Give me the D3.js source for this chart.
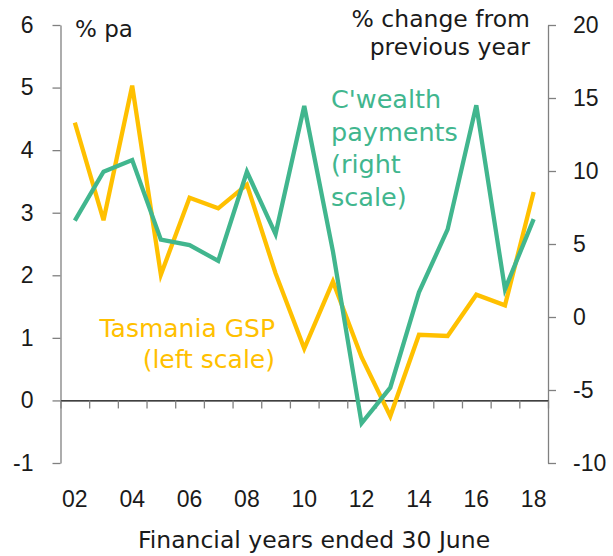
<!DOCTYPE html>
<html>
<head>
<meta charset="utf-8">
<script src="https://cdn.jsdelivr.net/npm/d3@7"></script>
<style>
  body { margin: 0; background: #fff; }
  svg { font-family: "DejaVu Sans", sans-serif; }
  .tick text { fill: #1a1a1a; }
</style>
</head>
<body>
<div id="chart"></div>
<script>
// data
let years = ['02','03','04','05','06','07','08','09','10','11','12','13','14','15','16','17','18']
let labelYears = ['02','04','06','08','10','12','14','16','18']
let gsp = [4.44, 2.88, 5.03, 2.01, 3.24, 3.07, 3.45, 2.03, 0.83, 1.9, 0.69, -0.25, 1.05, 1.03, 1.69, 1.52, 3.33]
let payments = [6.6, 9.95, 10.75, 5.3, 4.93, 3.84, 9.95, 5.68, 14.45, 4.5, -7.28, -4.84, 1.69, 6.0, 14.5, 1.9, 6.7]
let leftTicks = [-1, 0, 1, 2, 3, 4, 5, 6]
let rightTicks = [-10, -5, 0, 5, 10, 15, 20]

let yellow = '#FFC000'
let green = '#41B68E'

let W = 613, H = 556
let plot = { left: 60.5, right: 548, top: 25, bottom: 463 }

let svg = d3.select('#chart')
    .append('svg')
    .attr('width', W)
    .attr('height', H)

let x = d3.scaleBand()
    .domain(years)
    .range([plot.left, plot.right])

let yL = d3.scaleLinear()
    .domain([-1, 6])
    .range([plot.bottom, plot.top])

let yR = d3.scaleLinear()
    .domain([-10, 20])
    .range([plot.bottom, plot.top])

// plain hyphen for negatives, like the original
let fmt = d => String(d)

// left axis
let gL = svg.append('g')
    .attr('transform', `translate(${plot.left}, 0)`)
    .call(d3.axisLeft(yL).tickValues(leftTicks).tickFormat(fmt)
        .tickSize(8).tickSizeOuter(0).tickPadding(19))
gL.selectAll('path, line').attr('stroke', '#808080').attr('stroke-width', 1.3)
gL.selectAll('text').attr('font-size', 23)

// right axis
let gR = svg.append('g')
    .attr('transform', `translate(${plot.right}, 0)`)
    .call(d3.axisRight(yR).tickValues(rightTicks).tickFormat(fmt)
        .tickSize(8).tickSizeOuter(0).tickPadding(17))
gR.selectAll('path, line').attr('stroke', '#808080').attr('stroke-width', 1.3)
gR.selectAll('text').attr('font-size', 23)

// zero line with ticks at band edges
let edges = d3.scaleLinear().domain([0, years.length]).range([plot.left, plot.right])
let gZ = svg.append('g')
    .attr('transform', `translate(0, ${yL(0)})`)
    .call(d3.axisBottom(edges).ticks(years.length).tickSize(8).tickSizeOuter(0).tickFormat(''))
gZ.select('.domain').attr('stroke', '#000').attr('stroke-width', 1.3)
gZ.selectAll('.tick line').attr('stroke', '#808080').attr('stroke-width', 1.3)

// year labels at the bottom
let gX = svg.append('g')
    .attr('transform', `translate(0, ${plot.bottom})`)
    .call(d3.axisBottom(x).tickValues(labelYears).tickSize(0).tickPadding(28))
gX.select('.domain').remove()
gX.selectAll('text').attr('font-size', 23)

// lines
let lineL = d3.line()
    .x((d, i) => x(years[i]) + x.bandwidth() / 2)
    .y(d => yL(d))

let lineR = d3.line()
    .x((d, i) => x(years[i]) + x.bandwidth() / 2)
    .y(d => yR(d))

svg.append('path')
    .datum(gsp)
    .attr('d', lineL)
    .attr('fill', 'none')
    .attr('stroke', yellow)
    .attr('stroke-width', 4.3)
    .attr('stroke-linejoin', 'miter')

svg.append('path')
    .datum(payments)
    .attr('d', lineR)
    .attr('fill', 'none')
    .attr('stroke', green)
    .attr('stroke-width', 4.3)
    .attr('stroke-linejoin', 'miter')

// texts
svg.append('text')
    .text('% pa')
    .attr('x', 75).attr('y', 37)
    .attr('font-size', 23)
    .attr('fill', '#1a1a1a')

svg.append('text')
    .attr('text-anchor', 'end')
    .attr('font-size', 23.5)
    .attr('fill', '#1a1a1a')
    .selectAll('tspan')
    .data(['% change from', 'previous year'])
    .join('tspan')
    .attr('x', 530)
    .attr('y', (d, i) => 27 + i * 28)
    .text(d => d)

svg.append('text')
    .attr('font-size', 25.5)
    .attr('fill', green)
    .selectAll('tspan')
    .data(["C'wealth", 'payments', '(right', 'scale)'])
    .join('tspan')
    .attr('x', 331)
    .attr('y', (d, i) => 108 + i * 32.5)
    .text(d => d)

svg.append('text')
    .attr('text-anchor', 'end')
    .attr('font-size', 25)
    .attr('fill', yellow)
    .selectAll('tspan')
    .data(['Tasmania GSP', '(left scale)'])
    .join('tspan')
    .attr('x', 275)
    .attr('y', (d, i) => 337 + i * 31)
    .text(d => d)

svg.append('text')
    .text('Financial years ended 30 June')
    .attr('x', 314).attr('y', 548)
    .attr('text-anchor', 'middle')
    .attr('font-size', 23.5)
    .attr('fill', '#1a1a1a')
</script>
</body>
</html>
